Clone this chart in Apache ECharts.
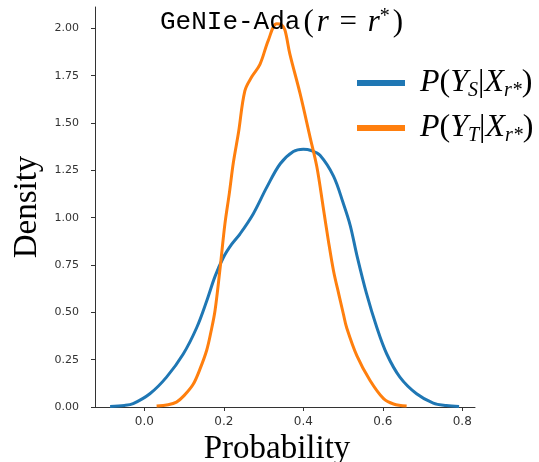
<!DOCTYPE html>
<html>
<head>
<meta charset="utf-8">
<script src="https://cdn.jsdelivr.net/npm/echarts@6/dist/echarts.min.js"></script>
<style>
    html, body {margin: 0; padding: 0; background: #fff;}
    #myChart {width: 539px; height: 462px;}
</style>
</head>
<body>
<div id="myChart"></div>
<script>
// KDE curves: [probability, density]
var sourceCurve = [
    [-0.086, 0.003], [-0.05, 0.008], [-0.028, 0.018], [0.014, 0.07], [0.056, 0.158], [0.098, 0.28],
    [0.132, 0.42], [0.157, 0.56], [0.178, 0.69], [0.199, 0.79], [0.22, 0.86], [0.241, 0.915],
    [0.274, 1.02], [0.308, 1.16], [0.342, 1.285], [0.375, 1.35], [0.40, 1.362], [0.42, 1.355],
    [0.442, 1.33], [0.476, 1.22], [0.50, 1.08], [0.518, 0.96], [0.535, 0.80], [0.559, 0.60],
    [0.585, 0.42], [0.61, 0.28], [0.643, 0.158], [0.685, 0.07], [0.727, 0.021], [0.76, 0.008],
    [0.792, 0.003]
];
var targetCurve = [
    [0.031, 0.005], [0.06, 0.012], [0.081, 0.026], [0.10, 0.06], [0.123, 0.12], [0.14, 0.2],
    [0.157, 0.30], [0.168, 0.40], [0.178, 0.51], [0.19, 0.72], [0.203, 0.97], [0.214, 1.13],
    [0.224, 1.29], [0.237, 1.45], [0.253, 1.67], [0.27, 1.743], [0.291, 1.81], [0.312, 1.937],
    [0.333, 2.025], [0.345, 2.02], [0.354, 1.99], [0.366, 1.867], [0.392, 1.655], [0.417, 1.426],
    [0.434, 1.27], [0.45, 1.057], [0.463, 0.88], [0.476, 0.72], [0.49, 0.59], [0.501, 0.49],
    [0.509, 0.42], [0.535, 0.27], [0.568, 0.14], [0.602, 0.044], [0.627, 0.016], [0.66, 0.005]
];
var xTicks = [0.0, 0.2, 0.4, 0.6, 0.8];
var yTicks = [0.0, 0.25, 0.5, 0.75, 1.0, 1.25, 1.5, 1.75, 2.0];
var seriesNames = ['source', 'target'];

var serif = 'Liberation Serif';
var richMath = {
    i: {fontFamily: serif, fontStyle: 'italic', fontSize: 32, color: '#000'},
    n: {fontFamily: serif, fontSize: 32, color: '#000'},
    sub: {fontFamily: serif, fontStyle: 'italic', fontSize: 20, color: '#000', verticalAlign: 'bottom', padding: [12, 0, 0, 0]},
    sup: {fontFamily: serif, fontSize: 16, color: '#000', verticalAlign: 'top', padding: [0, 0, 10, 0]}
};
var legendLabels = {
    source: '{i|P}{n|(}{i|Y}{sub|S}{n||}{i|X}{sub|r*}{n|)}',
    target: '{i|P}{n|(}{i|Y}{sub|T}{n||}{i|X}{sub|r*}{n|)}'
};

var myChart = echarts.init(document.getElementById('myChart'));

var option = {
    animation: false,
    title: {
        text: '{m|GeNIe-Ada}{s|(}{i|r}{s| = }{i|r}{sup|*}{s|)}',
        left: 155,
        top: 2,
        textStyle: {
            rich: {
                m: {fontFamily: 'Liberation Mono', fontWeight: 'normal', fontSize: 26, color: '#000'},
                s: {fontFamily: serif, fontWeight: 'normal', fontSize: 31, color: '#000', padding: [0, 3, 0, 3]},
                i: {fontFamily: serif, fontWeight: 'normal', fontStyle: 'italic', fontSize: 31, color: '#000'},
                sup: {fontFamily: serif, fontWeight: 'normal', fontSize: 20, color: '#000', verticalAlign: 'top'}
            }
        }
    },
    legend: {
        orient: 'vertical',
        left: 352,
        top: 60,
        itemWidth: 48,
        itemHeight: 6,
        itemGap: 9,
        icon: 'rect',
        data: seriesNames,
        formatter: function (name) {
            return legendLabels[name];
        },
        textStyle: {
            padding: [0, 0, 0, 10],
            lineHeight: 36,
            rich: richMath
        }
    },
    grid: {left: 95, right: 64, top: 7, bottom: 55, outerBoundsMode: 'none', containLabel: false},
    xAxis: {
        type: 'value',
        min: -0.124,
        max: 0.832,
        name: 'Probability',
        nameLocation: 'middle',
        nameGap: 22,
        nameTextStyle: {fontFamily: serif, fontSize: 33, color: '#000', padding: [0, 16, 0, 0]},
        splitLine: {show: false},
        axisLine: {onZero: false, lineStyle: {color: '#333', width: 1}},
        axisTick: {show: true, length: 4, lineStyle: {color: '#333'}, customValues: xTicks},
        axisLabel: {
            customValues: xTicks,
            color: '#333',
            fontFamily: 'DejaVu Sans',
            fontSize: 12,
            margin: 9,
            formatter: function (v) { return v.toFixed(1); }
        }
    },
    yAxis: {
        type: 'value',
        min: 0,
        max: 2.113,
        name: 'Density',
        nameLocation: 'middle',
        nameRotate: 90,
        nameGap: 51,
        nameTextStyle: {fontFamily: serif, fontSize: 33, color: '#000'},
        splitLine: {show: false},
        axisLine: {show: true, onZero: false, lineStyle: {color: '#333', width: 1}},
        axisTick: {show: true, length: 4, lineStyle: {color: '#333'}, customValues: yTicks},
        axisLabel: {
            customValues: yTicks,
            color: '#333',
            fontFamily: 'DejaVu Sans',
            fontSize: 11,
            margin: 16,
            formatter: function (v) { return v.toFixed(2); }
        }
    },
    series: [
        {
            name: 'source',
            type: 'line',
            data: sourceCurve,
            smooth: 0.35,
            showSymbol: false,
            color: '#1f77b4',
            lineStyle: {width: 3, color: '#1f77b4'}
        },
        {
            name: 'target',
            type: 'line',
            data: targetCurve,
            smooth: 0.35,
            showSymbol: false,
            color: '#ff7f0e',
            lineStyle: {width: 3, color: '#ff7f0e'}
        }
    ]
};

myChart.setOption(option);
</script>
</body>
</html>
